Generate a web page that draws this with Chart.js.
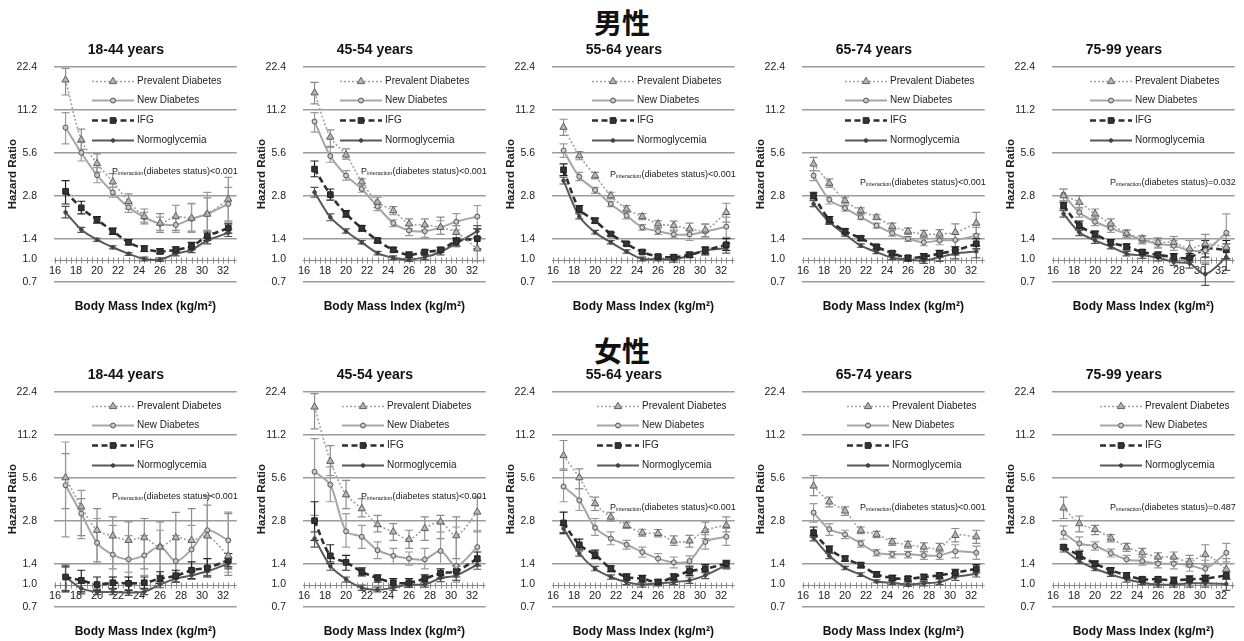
<!DOCTYPE html>
<html>
<head>
<meta charset="utf-8">
<script src="https://cdn.jsdelivr.net/npm/chart.js@4.4.1/dist/chart.umd.min.js"></script>
<style>
  html, body { margin: 0; padding: 0; background: #fff; }
  body { position: relative; width: 1244px; height: 641px; overflow: hidden; }
  .sex { position: absolute; left: 0; width: 1244px; text-align: center; line-height: 28px;
         font-family: "Noto Sans CJK SC", "Noto Sans CJK JP", sans-serif; font-size: 28px; font-weight: bold; color: #111; }
  canvas { position: absolute; }
</style>
</head>
<body>
<div class="sex" style="top:8px">男性</div>
<div class="sex" style="top:336px">女性</div>
<script>
// ---- shared axes ----
const bmiMid = [17, 18.5, 20, 21.5, 23, 24.5, 26, 27.5, 29, 30.5, 32.5];
const bmiTicks = [16, 18, 20, 22, 24, 26, 28, 30, 32];
const hrTicks = [0.7, 1.0, 1.4, 2.8, 5.6, 11.2, 22.4];
const seriesNames = ['Prevalent Diabetes', 'New Diabetes', 'IFG', 'Normoglycemia'];

// ---- men, 18-44 ----
const m1844Prev = [18.1, 6.9, 4.7, 3.5, 2.55, 2.0, 1.8, 2.0, 1.95, 2.08, 2.65];
const m1844PrevCI = [[14.2,21.8],[5.9,8.2],[4.1,5.5],[3.2,4.0],[2.26,2.88],[1.78,2.26],[1.55,2.1],[1.6,2.4],[1.58,2.48],[1.6,2.7],[1.83,3.77]];
const m1844New = [8.4, 5.6, 3.9, 2.95, 2.32, 1.98, 1.78, 1.75, 1.93, 2.09, 2.45];
const m1844NewCI = [[6.45,10.7],[4.9,6.6],[3.45,4.4],[2.73,3.2],[2.14,2.5],[1.83,2.14],[1.6,1.98],[1.55,1.98],[1.55,2.45],[1.43,2.95],[1.87,3.2]];
const m1844IFG = [3.0, 2.3, 1.9, 1.58, 1.32, 1.19, 1.14, 1.17, 1.24, 1.46, 1.66];
const m1844IFGCI = [[2.45,3.57],[2.09,2.56],[1.8,2.0],[1.5,1.66],[1.27,1.38],[1.14,1.25],[1.1,1.19],[1.11,1.23],[1.17,1.32],[1.36,1.56],[1.53,1.78]];
const m1844Norm = [2.14, 1.62, 1.38, 1.22, 1.1, 1.01, 1.0, 1.1, 1.17, 1.36, 1.54];
const m1844NormCI = [[1.96,2.36],[1.55,1.68],[1.34,1.41],[1.19,1.25],[1.07,1.12],[0.98,1.04],[0.97,1.03],[1.06,1.14],[1.12,1.22],[1.29,1.43],[1.45,1.64]];

// ---- men, 45-54 ----
const m4554Prev = [14.7, 7.2, 5.4, 3.5, 2.52, 2.2, 1.78, 1.75, 1.68, 1.55, 1.19];
const m4554PrevCI = [[12.3,17.4],[6.2,8.1],[5.05,5.95],[3.3,3.67],[2.32,2.73],[2.06,2.35],[1.64,1.93],[1.6,1.93],[1.5,1.98],[1.4,1.73],[0.98,1.43]];
const m4554New = [9.25, 5.3, 3.87, 3.12, 2.35, 1.8, 1.6, 1.58, 1.68, 1.84, 2.0];
const m4554NewCI = [[7.8,10.7],[4.8,6.1],[3.6,4.2],[2.96,3.3],[2.2,2.52],[1.7,1.9],[1.47,1.73],[1.43,1.73],[1.5,1.87],[1.61,2.1],[1.64,2.39]];
const m4554IFG = [4.3, 2.85, 2.09, 1.66, 1.36, 1.17, 1.08, 1.13, 1.17, 1.34, 1.4];
const m4554IFGCI = [[3.8,4.9],[2.61,3.12],[1.98,2.2],[1.58,1.73],[1.31,1.41],[1.13,1.22],[1.04,1.13],[1.08,1.17],[1.13,1.22],[1.25,1.42],[1.19,1.64]];
const m4554Norm = [2.96, 1.98, 1.58, 1.32, 1.11, 1.03, 1.0, 1.04, 1.13, 1.3, 1.58];
const m4554NormCI = [[2.73,3.2],[1.87,2.09],[1.53,1.64],[1.29,1.36],[1.08,1.14],[1.0,1.06],[0.97,1.03],[1.0,1.08],[1.08,1.17],[1.23,1.37],[1.43,1.73]];

// ---- men, 55-64 ----
const m5564Prev = [8.44, 5.34, 3.87, 2.8, 2.26, 2.0, 1.78, 1.73, 1.64, 1.61, 2.14];
const m5564PrevCI = [[7.4,9.6],[5.0,5.7],[3.67,4.08],[2.66,2.96],[2.14,2.39],[1.9,2.1],[1.68,1.87],[1.61,1.86],[1.5,1.8],[1.45,1.78],[1.83,2.48]];
const m5564New = [5.8, 3.8, 3.07, 2.45, 2.03, 1.68, 1.58, 1.5, 1.5, 1.57, 1.7];
const m5564NewCI = [[5.2,6.45],[3.57,4.08],[2.91,3.2],[2.35,2.56],[1.93,2.14],[1.61,1.76],[1.5,1.66],[1.42,1.58],[1.36,1.64],[1.42,1.76],[1.43,1.98]];
const m5564IFG = [4.25, 2.26, 1.87, 1.51, 1.29, 1.13, 1.05, 1.04, 1.08, 1.16, 1.27];
const m5564IFGCI = [[3.87,4.67],[2.14,2.39],[1.8,1.95],[1.46,1.55],[1.25,1.32],[1.1,1.16],[1.02,1.08],[1.0,1.08],[1.04,1.13],[1.08,1.23],[1.16,1.4]];
const m5564Norm = [3.57, 2.0, 1.55, 1.32, 1.14, 1.01, 1.01, 1.0, 1.07, 1.16, 1.2];
const m5564NormCI = [[3.38,3.77],[1.93,2.09],[1.51,1.6],[1.29,1.36],[1.11,1.17],[0.98,1.04],[0.98,1.04],[0.96,1.04],[1.03,1.1],[1.1,1.21],[1.11,1.3]];

// ---- men, 65-74 ----
const m6574Prev = [4.67, 3.42, 2.59, 2.2, 1.98, 1.71, 1.58, 1.51, 1.51, 1.55, 1.8];
const m6574PrevCI = [[4.2,5.2],[3.2,3.67],[2.45,2.73],[2.1,2.3],[1.9,2.06],[1.63,1.8],[1.5,1.66],[1.43,1.6],[1.42,1.62],[1.37,1.78],[1.51,2.14]];
const m6574New = [3.87, 2.63, 2.29, 1.98, 1.73, 1.53, 1.4, 1.32, 1.36, 1.37, 1.47];
const m6574NewCI = [[3.57,4.2],[2.45,2.8],[2.18,2.39],[1.9,2.06],[1.66,1.8],[1.46,1.6],[1.34,1.45],[1.25,1.4],[1.27,1.43],[1.23,1.51],[1.25,1.68]];
const m6574IFG = [2.8, 1.9, 1.58, 1.41, 1.23, 1.11, 1.03, 1.05, 1.1, 1.16, 1.29];
const m6574IFGCI = [[2.66,2.96],[1.8,2.0],[1.51,1.64],[1.36,1.46],[1.19,1.27],[1.08,1.14],[1.0,1.06],[1.01,1.1],[1.04,1.16],[1.08,1.23],[1.19,1.4]];
const m6574Norm = [2.45, 1.83, 1.5, 1.25, 1.13, 1.03, 1.0, 0.98, 1.04, 1.1, 1.14];
const m6574NormCI = [[2.35,2.59],[1.76,1.9],[1.46,1.54],[1.22,1.29],[1.1,1.16],[1.0,1.06],[0.97,1.03],[0.94,1.03],[0.97,1.1],[1.01,1.17],[1.03,1.25]];

// ---- men, 75-99 ----
const m7599Prev = [2.8, 2.52, 2.09, 1.78, 1.53, 1.4, 1.32, 1.32, 1.19, 1.29, 1.22];
const m7599PrevCI = [[2.52,3.12],[2.26,2.8],[1.93,2.26],[1.64,1.93],[1.43,1.61],[1.31,1.47],[1.22,1.42],[1.22,1.45],[1.04,1.36],[1.1,1.5],[1.01,1.47]];
const m7599New = [2.85, 2.14, 1.84, 1.66, 1.51, 1.37, 1.29, 1.25, 1.16, 1.16, 1.54];
const m7599NewCI = [[2.59,3.12],[1.98,2.32],[1.73,1.98],[1.55,1.78],[1.43,1.6],[1.29,1.46],[1.2,1.37],[1.16,1.36],[0.98,1.36],[0.96,1.4],[1.13,2.09]];
const m7599IFG = [2.39, 1.73, 1.51, 1.32, 1.23, 1.13, 1.08, 1.04, 1.03, 1.19, 1.17];
const m7599IFGCI = [[2.26,2.52],[1.61,1.86],[1.43,1.58],[1.27,1.38],[1.17,1.29],[1.08,1.17],[1.03,1.13],[0.98,1.1],[0.96,1.1],[1.04,1.36],[1.01,1.36]];
const m7599Norm = [2.09, 1.55, 1.36, 1.23, 1.1, 1.07, 1.03, 0.96, 0.94, 0.79, 1.04];
const m7599NormCI = [[1.98,2.2],[1.47,1.64],[1.3,1.42],[1.19,1.27],[1.06,1.14],[1.02,1.12],[0.98,1.07],[0.91,1.01],[0.87,1.01],[0.66,0.93],[0.84,1.29]];

// ---- women, 18-44 ----
const f1844Prev = [5.6, 3.5, 2.4, 2.19, 2.04, 2.13, 1.83, 2.13, 2.04, 2.19, 1.59];
const f1844PrevCI = [[3.4,8.26],[2.2,4.0],[1.44,3.4],[1.29,2.98],[1.22,2.75],[1.29,2.9],[1.16,2.75],[1.22,3.2],[1.26,3.4],[1.22,3.6],[1.16,3.14]];
const f1844New = [4.96, 3.14, 1.96, 1.62, 1.5, 1.6, 1.85, 1.46, 1.76, 2.4, 2.04];
const f1844NewCI = [[2.16,9.96],[2.1,4.57],[1.4,2.9],[1.13,2.6],[1.13,2.2],[1.16,2.2],[1.16,2.4],[1.1,2.2],[1.16,2.6],[1.16,4.2],[1.22,3.22]];
const f1844IFG = [1.13, 1.07, 1.0, 1.03, 1.02, 1.03, 1.1, 1.15, 1.26, 1.31, 1.48];
const f1844IFGCI = [[0.89,1.33],[0.89,1.26],[0.91,1.13],[0.94,1.13],[0.91,1.13],[0.94,1.13],[1.02,1.23],[1.04,1.26],[1.1,1.44],[1.13,1.52],[1.33,1.65]];
const f1844Norm = [1.13, 0.94, 0.89, 0.89, 0.88, 0.89, 1.0, 1.1, 1.16, 1.24, 1.4];
const f1844NormCI = [[0.91,1.37],[0.86,1.02],[0.85,0.93],[0.85,0.93],[0.84,0.92],[0.85,0.93],[0.95,1.05],[1.04,1.16],[1.09,1.24],[1.15,1.33],[1.29,1.52]];

// ---- women, 45-54 ----
const f4554Prev = [17.5, 7.3, 4.26, 3.4, 2.63, 2.34, 2.07, 2.47, 2.74, 2.2, 3.22];
const f4554PrevCI = [[12.3,21.7],[5.8,9.4],[3.4,5.36],[2.98,4.0],[2.34,3.05],[2.04,2.67],[1.79,2.4],[2.04,2.98],[2.1,3.05],[1.52,2.98],[2.34,4.1]];
const f4554New = [6.16, 5.0, 2.36, 2.16, 1.74, 1.59, 1.52, 1.5, 1.72, 1.35, 1.83];
const f4554NewCI = [[3.05,10.5],[3.8,6.66],[1.83,3.14],[1.79,2.6],[1.52,1.99],[1.4,1.79],[1.37,1.69],[1.29,1.79],[1.4,2.34],[1.04,2.53],[1.44,2.4]];
const f4554IFG = [2.8, 1.59, 1.43, 1.23, 1.11, 1.03, 1.03, 1.1, 1.2, 1.24, 1.52];
const f4554IFGCI = [[2.04,3.8],[1.4,1.9],[1.26,1.6],[1.15,1.31],[1.04,1.17],[0.96,1.1],[0.96,1.1],[1.03,1.17],[1.11,1.29],[1.13,1.35],[1.35,1.69]];
const f4554Norm = [2.1, 1.35, 1.09, 0.95, 0.92, 0.95, 1.0, 1.0, 1.11, 1.16, 1.38];
const f4554NormCI = [[1.83,2.34],[1.26,1.44],[1.04,1.13],[0.91,0.99],[0.89,0.96],[0.91,0.99],[0.96,1.04],[0.96,1.04],[1.05,1.17],[1.07,1.24],[1.28,1.48]];

// ---- women, 55-64 ----
const f5564Prev = [8.0, 5.6, 3.69, 2.97, 2.6, 2.3, 2.28, 2.02, 2.02, 2.4, 2.6];
const f5564PrevCI = [[6.3,10.2],[4.7,6.46],[3.3,4.1],[2.78,3.2],[2.47,2.74],[2.18,2.44],[2.16,2.43],[1.88,2.19],[1.83,2.21],[2.1,2.74],[2.34,2.98]];
const f5564New = [4.86, 3.89, 2.5, 2.1, 1.9, 1.69, 1.52, 1.43, 1.46, 1.99, 2.16];
const f5564NewCI = [[3.8,6.46],[3.3,4.7],[2.21,2.9],[1.9,2.34],[1.77,2.04],[1.56,1.83],[1.4,1.65],[1.31,1.56],[1.35,1.59],[1.77,2.24],[1.88,2.47]];
const f5564IFG = [2.7, 1.9, 1.62, 1.29, 1.13, 1.1, 1.04, 1.13, 1.24, 1.29, 1.4];
const f5564IFGCI = [[2.27,3.22],[1.77,2.08],[1.52,1.74],[1.23,1.35],[1.07,1.19],[1.04,1.16],[1.0,1.09],[1.07,1.19],[1.16,1.33],[1.21,1.38],[1.31,1.48]];
const f5564Norm = [2.47, 1.65, 1.29, 1.13, 1.04, 1.0, 1.02, 1.04, 1.07, 1.16, 1.37];
const f5564NormCI = [[2.31,2.6],[1.58,1.72],[1.25,1.34],[1.09,1.17],[1.0,1.08],[0.96,1.03],[0.98,1.06],[1.0,1.08],[1.02,1.13],[1.1,1.23],[1.29,1.44]];

// ---- women, 65-74 ----
const f6574Prev = [4.9, 3.79, 3.28, 2.4, 2.25, 1.99, 1.9, 1.83, 1.8, 2.21, 2.16];
const f6574PrevCI = [[4.2,5.8],[3.5,4.1],[3.05,3.5],[2.27,2.53],[2.13,2.36],[1.88,2.1],[1.8,2.01],[1.71,1.96],[1.69,1.94],[1.99,2.47],[1.94,2.4]];
const f6574New = [3.19, 2.44, 2.24, 1.94, 1.67, 1.63, 1.63, 1.6, 1.6, 1.71, 1.67];
const f6574NewCI = [[2.74,3.69],[2.21,2.67],[2.1,2.4],[1.83,2.04],[1.59,1.76],[1.54,1.71],[1.54,1.71],[1.5,1.69],[1.5,1.71],[1.54,1.9],[1.5,1.86]];
const f6574IFG = [2.31, 1.77, 1.52, 1.37, 1.18, 1.11, 1.1, 1.13, 1.16, 1.21, 1.29];
const f6574IFGCI = [[2.16,2.53],[1.67,1.86],[1.46,1.58],[1.31,1.42],[1.13,1.23],[1.07,1.16],[1.06,1.14],[1.08,1.18],[1.11,1.21],[1.14,1.28],[1.21,1.38]];
const f6574Norm = [2.12, 1.59, 1.31, 1.17, 1.05, 1.03, 1.0, 1.02, 1.04, 1.13, 1.19];
const f6574NormCI = [[2.02,2.21],[1.52,1.65],[1.27,1.34],[1.14,1.21],[1.03,1.08],[1.0,1.06],[0.97,1.03],[0.98,1.05],[1.0,1.09],[1.07,1.19],[1.13,1.26]];

// ---- women, 75-99 ----
const f7599Prev = [3.44, 2.67, 2.43, 2.12, 1.83, 1.67, 1.56, 1.56, 1.44, 1.62, 1.28];
const f7599PrevCI = [[2.9,4.1],[2.34,3.02],[2.24,2.6],[1.99,2.24],[1.71,1.94],[1.56,1.79],[1.44,1.67],[1.44,1.69],[1.33,1.6],[1.37,1.9],[1.1,1.52]];
const f7599New = [2.3, 1.94, 1.86, 1.66, 1.5, 1.46, 1.4, 1.4, 1.37, 1.29, 1.67];
const f7599NewCI = [[2.08,2.58],[1.74,2.16],[1.74,1.99],[1.56,1.77],[1.4,1.6],[1.37,1.56],[1.31,1.52],[1.29,1.52],[1.24,1.52],[1.16,1.48],[1.44,1.94]];
const f7599IFG = [1.83, 1.6, 1.4, 1.26, 1.16, 1.09, 1.09, 1.07, 1.09, 1.1, 1.16];
const f7599IFGCI = [[1.77,1.9],[1.5,1.71],[1.35,1.46],[1.21,1.31],[1.11,1.21],[1.04,1.13],[1.04,1.13],[1.02,1.13],[1.03,1.15],[1.04,1.16],[1.09,1.23]];
const f7599Norm = [1.77, 1.46, 1.29, 1.18, 1.09, 1.03, 1.0, 1.0, 1.02, 1.02, 1.01];
const f7599NormCI = [[1.69,1.83],[1.4,1.52],[1.25,1.34],[1.14,1.23],[1.04,1.13],[1.0,1.07],[0.96,1.04],[0.96,1.04],[0.96,1.07],[0.96,1.07],[0.91,1.1]];

const pValues = ['<0.001', '<0.001', '<0.001', '<0.001', '=0.032', '<0.001', '<0.001', '<0.001', '<0.001', '=0.487'];
const ageGroups = ['18-44 years', '45-54 years', '55-64 years', '65-74 years', '75-99 years'];

// ---- panel list, built from the arrays above ----
const panelSeries = [
  [m1844Prev, m1844New, m1844IFG, m1844Norm, m1844PrevCI, m1844NewCI, m1844IFGCI, m1844NormCI],
  [m4554Prev, m4554New, m4554IFG, m4554Norm, m4554PrevCI, m4554NewCI, m4554IFGCI, m4554NormCI],
  [m5564Prev, m5564New, m5564IFG, m5564Norm, m5564PrevCI, m5564NewCI, m5564IFGCI, m5564NormCI],
  [m6574Prev, m6574New, m6574IFG, m6574Norm, m6574PrevCI, m6574NewCI, m6574IFGCI, m6574NormCI],
  [m7599Prev, m7599New, m7599IFG, m7599Norm, m7599PrevCI, m7599NewCI, m7599IFGCI, m7599NormCI],
  [f1844Prev, f1844New, f1844IFG, f1844Norm, f1844PrevCI, f1844NewCI, f1844IFGCI, f1844NormCI],
  [f4554Prev, f4554New, f4554IFG, f4554Norm, f4554PrevCI, f4554NewCI, f4554IFGCI, f4554NormCI],
  [f5564Prev, f5564New, f5564IFG, f5564Norm, f5564PrevCI, f5564NewCI, f5564IFGCI, f5564NormCI],
  [f6574Prev, f6574New, f6574IFG, f6574Norm, f6574PrevCI, f6574NewCI, f6574IFGCI, f6574NormCI],
  [f7599Prev, f7599New, f7599IFG, f7599Norm, f7599PrevCI, f7599NewCI, f7599IFGCI, f7599NormCI]
];

// ---- styling ----
const FONT = '"Liberation Sans", Arial, Helvetica, sans-serif';
Chart.defaults.font.family = FONT;
Chart.defaults.color = '#222';

const seriesStyle = [
  { borderColor: '#a2a2a2', borderWidth: 1.6, borderDash: [2, 2], pointStyle: 'triangle', pointRadius: 4.2,
    pointBackgroundColor: '#b5b5b5', pointBorderColor: '#5e5e5e', pointBorderWidth: 1, errColor: '#8c8c8c' },
  { borderColor: '#a6a6a6', borderWidth: 2, borderDash: [], pointStyle: 'circle', pointRadius: 2.5,
    pointBackgroundColor: '#c8c8c8', pointBorderColor: '#555', pointBorderWidth: 1, errColor: '#9a9a9a' },
  { borderColor: '#2f2f2f', borderWidth: 2.6, borderDash: [6, 3.5], pointStyle: 'rect', pointRadius: 4,
    pointBackgroundColor: '#333', pointBorderColor: '#222', pointBorderWidth: 1, errColor: '#222' },
  { borderColor: '#595959', borderWidth: 2, borderDash: [], pointStyle: 'circle', pointRadius: 1.8,
    pointBackgroundColor: '#444', pointBorderColor: '#444', pointBorderWidth: 1, errColor: '#555' }
];

// where the in-plot legend starts (px from plot left) and where the interaction note sits (px below plot top)
const legendLeft = [38, 37, 40, 43, 38, 38, 39, 45, 45, 48];
const noteTop = [104, 104, 107, 115, 115, 104, 104, 115, 115, 115];

// ---- plugins ----
// horizontal reference line at HR = 1 with small cross ticks every 0.5 BMI unit
const refAxis = {
  id: 'refAxis',
  beforeDatasetsDraw(chart) {
    const { ctx, chartArea: a, scales: { x, y } } = chart;
    const py = Math.round(y.getPixelForValue(1)) + 0.5;
    ctx.save();
    ctx.strokeStyle = '#8a8a8a';
    ctx.lineWidth = 1;
    ctx.beginPath();
    ctx.moveTo(a.left, py);
    ctx.lineTo(a.right, py);
    for (let v = bmiTicks[0]; v <= x.max + 1e-9; v += 0.5) {
      const px = Math.round(x.getPixelForValue(v)) + 0.5;
      ctx.moveTo(px, py - 3);
      ctx.lineTo(px, py + 3);
    }
    ctx.stroke();
    ctx.restore();
  }
};

// 95% CI whiskers
const errorBars = {
  id: 'errorBars',
  beforeDatasetsDraw(chart) {
    const { ctx, scales: { x, y } } = chart;
    chart.data.datasets.forEach(ds => {
      if (!ds.ci) return;
      ctx.save();
      ctx.strokeStyle = ds.errColor;
      ctx.lineWidth = 1.2;
      ctx.setLineDash([]);
      ctx.beginPath();
      ds.ci.forEach((pair, k) => {
        const px = x.getPixelForValue(ds.data[k].x);
        const y0 = y.getPixelForValue(pair[0]);
        const y1 = y.getPixelForValue(pair[1]);
        ctx.moveTo(px, y0); ctx.lineTo(px, y1);
        ctx.moveTo(px - 4, y0); ctx.lineTo(px + 4, y0);
        ctx.moveTo(px - 4, y1); ctx.lineTo(px + 4, y1);
      });
      ctx.stroke();
      ctx.restore();
    });
  }
};

function drawMarker(ctx, ds, x, y) {
  ctx.fillStyle = ds.pointBackgroundColor;
  ctx.strokeStyle = ds.pointBorderColor;
  ctx.lineWidth = ds.pointBorderWidth;
  if (Chart.helpers && Chart.helpers.drawPoint) {
    Chart.helpers.drawPoint(ctx, { pointStyle: ds.pointStyle, radius: ds.pointRadius,
      borderWidth: ds.pointBorderWidth, rotation: 0 }, x, y);
  } else {
    ctx.beginPath();
    ctx.arc(x, y, ds.pointRadius, 0, Math.PI * 2);
    ctx.fill(); ctx.stroke();
  }
}

// legend stacked inside the plot, upper right
const innerLegend = {
  id: 'innerLegend',
  afterDatasetsDraw(chart, args, opts) {
    const { ctx, chartArea: a } = chart;
    ctx.save();
    chart.data.datasets.forEach((ds, k) => {
      const x0 = a.left + opts.x;
      const yy = Math.round(a.top + 14 + 19.7 * k) + 0.5;
      ctx.strokeStyle = ds.borderColor;
      ctx.lineWidth = ds.borderWidth;
      ctx.setLineDash(ds.borderDash || []);
      ctx.beginPath();
      ctx.moveTo(x0, yy);
      ctx.lineTo(x0 + 42, yy);
      ctx.stroke();
      ctx.setLineDash([]);
      drawMarker(ctx, ds, x0 + 21, yy);
      ctx.fillStyle = '#222';
      ctx.font = '10px ' + FONT;
      ctx.textBaseline = 'middle';
      ctx.textAlign = 'left';
      ctx.fillText(ds.label, x0 + 45, yy);
    });
    ctx.restore();
  }
};

// P for interaction note, right-aligned to the plot
const pNote = {
  id: 'pNote',
  afterDatasetsDraw(chart, args, opts) {
    const { ctx, chartArea: a } = chart;
    const base = a.top + opts.dy + 3;
    const rest = '(diabetes status)' + opts.p;
    const big = '9px ' + FONT, small = '5.5px ' + FONT;
    ctx.save();
    ctx.fillStyle = '#222';
    ctx.textBaseline = 'alphabetic';
    ctx.textAlign = 'left';
    ctx.font = big;
    const wP = ctx.measureText('P').width;
    const wR = ctx.measureText(rest).width;
    ctx.font = small;
    const wS = ctx.measureText('interaction').width;
    const x0 = a.right + 1 - (wP + wS + wR);
    ctx.font = big;
    ctx.fillText('P', x0, base);
    ctx.font = small;
    ctx.fillText('interaction', x0 + wP, base + 1.5);
    ctx.font = big;
    ctx.fillText(rest, x0 + wP + wS, base);
    ctx.restore();
  }
};

// ---- build the ten panels ----
const rows = [{ top: 36, h: 284 }, { top: 361, h: 280 }];
const colLeft = [0, 249, 498, 748, 998];
const PAD_L = 15, PLOT_L = 54, PLOT_W = 182.7;
const Y_TITLE_X = 13.3;   // centre line of the rotated axis title, px from panel edge

panelSeries.forEach((ser, i) => {
  const r = rows[Math.floor(i / 5)];
  const c = i % 5;
  const w = c === 4 ? 1244 - colLeft[4] : 249;
  const cv = document.createElement('canvas');
  cv.width = w; cv.height = r.h;
  cv.style.left = colLeft[c] + 'px';
  cv.style.top = r.top + 'px';
  cv.style.width = w + 'px';
  cv.style.height = r.h + 'px';
  document.body.appendChild(cv);

  const datasets = seriesNames.map((name, k) => Object.assign({
    label: name,
    data: bmiMid.map((b, j) => ({ x: b, y: ser[k][j] })),
    ci: ser[k + 4],
    tension: 0.3,
    fill: false,
    clip: false
  }, seriesStyle[k]));

  const yTitleSize = 11.5, yTitleLH = 1.2;

  new Chart(cv, {
    type: 'line',
    data: { datasets },
    plugins: [refAxis, errorBars, innerLegend, pNote],
    options: {
      responsive: false,
      animation: false,
      devicePixelRatio: 1,
      events: [],
      layout: { padding: { left: PAD_L, top: 0, bottom: 0, right: w - PLOT_L - PLOT_W } },
      scales: {
        x: {
          type: 'linear',
          min: 15.9,
          max: 33.3,
          position: { y: 1 },
          afterBuildTicks: s => { s.ticks = bmiTicks.map(v => ({ value: v })); },
          ticks: { font: { size: 11 }, color: '#222', padding: 5, maxRotation: 0, autoSkip: false,
                   callback: v => String(v) },
          grid: { display: false, drawTicks: false },
          border: { display: false }
        },
        y: {
          type: 'logarithmic',
          min: 0.7,
          max: 22.4,
          afterBuildTicks: s => { s.ticks = hrTicks.map(v => ({ value: v })); },
          afterFit: s => { s.width = PLOT_L - PAD_L; },
          ticks: { font: { size: 10.5 }, color: '#222', padding: 17, autoSkip: false,
                   callback: v => Number(v).toFixed(1) },
          grid: { drawTicks: false, lineWidth: 1.5,
                  color: ctx => (ctx.tick && Math.abs(ctx.tick.value - 1) < 1e-6) ? 'rgba(0,0,0,0)' : '#9b9b9b' },
          border: { display: false },
          title: { display: true, text: 'Hazard Ratio', color: '#222',
                   font: { size: yTitleSize, weight: 'bold', lineHeight: yTitleLH },
                   padding: { top: Y_TITLE_X - PAD_L - yTitleSize * yTitleLH / 2, bottom: 0 } }
        }
      },
      plugins: {
        legend: { display: false },
        tooltip: { enabled: false },
        title: { display: true, text: ageGroups[c], color: '#111',
                 font: { size: 14, weight: 'bold', lineHeight: 1 }, padding: { top: 7, bottom: 9.7 } },
        subtitle: { display: true, position: 'bottom', fullSize: false, text: 'Body Mass Index (kg/m²)', color: '#111',
                    font: { size: 12, weight: 'bold', lineHeight: 1 },
                    padding: { top: 19, bottom: r.h - 215 - 30.7 - 19 - 12 } },
        innerLegend: { x: legendLeft[i] },
        pNote: { dy: noteTop[i], p: pValues[i] }
      }
    }
  });
});
</script>
</body>
</html>
